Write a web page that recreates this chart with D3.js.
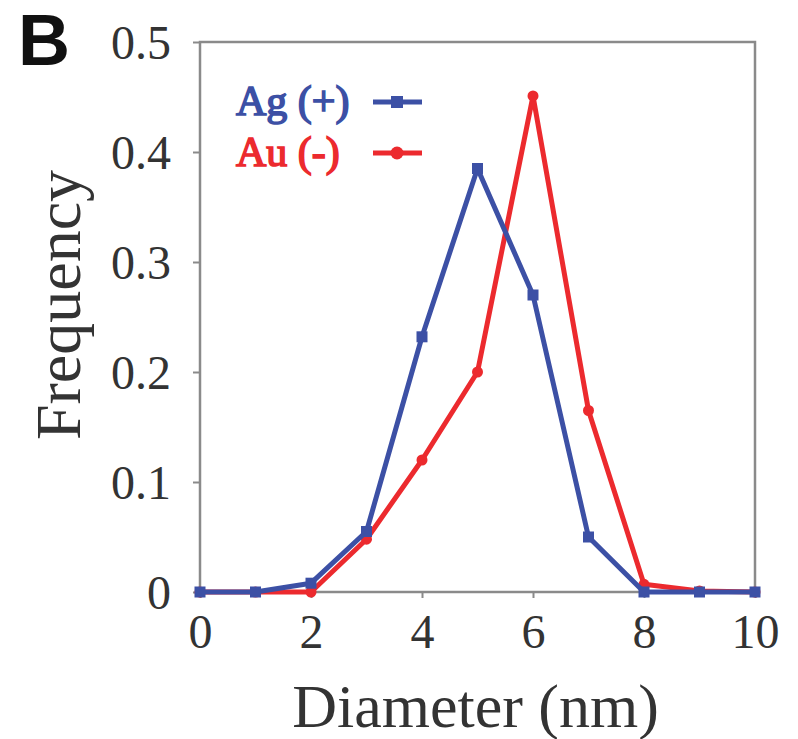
<!DOCTYPE html>
<html>
<head>
<meta charset="utf-8">
<script src="https://cdn.jsdelivr.net/npm/d3@7"></script>
<style>
  body { margin: 0; background: #fff; }
  svg { display: block; }
  .tick text { font-family: "Liberation Serif", "Times New Roman", serif; }
</style>
</head>
<body>
<svg width="798" height="739"></svg>
<script>
const diameter = [0, 1, 2, 3, 4, 5, 6, 7, 8, 9, 10];
const agValues = [0, 0, 0.008, 0.055, 0.232, 0.385, 0.27, 0.05, 0, 0, 0];
const auValues = [0, 0, 0, 0.048, 0.12, 0.2, 0.451, 0.165, 0.007, 0.001, 0];
const xTicks = [0, 2, 4, 6, 8, 10];
const yTicks = [0, 0.1, 0.2, 0.3, 0.4, 0.5];

const blue = '#3c50a5';
const red = '#ec2a2e';

const svg = d3.select('svg');
const plotLeft = 200, plotRight = 755, plotTop = 42, plotBottom = 592;

const xScale = d3.scaleLinear().domain([0, 10]).range([plotLeft, plotRight]);
const yScale = d3.scaleLinear().domain([0, 0.5]).range([plotBottom, plotTop]);

// frame
svg.append('rect')
  .attr('x', plotLeft).attr('y', plotTop)
  .attr('width', plotRight - plotLeft).attr('height', plotBottom - plotTop)
  .attr('fill', 'none').attr('stroke', '#8a8a8a').attr('stroke-width', 2.5);

const xAxis = svg.append('g')
  .attr('transform', `translate(0, ${plotBottom})`)
  .call(d3.axisBottom(xScale).tickValues(xTicks).tickSize(6).tickPadding(16).tickFormat(d3.format('d')));
xAxis.select('.domain').remove();
xAxis.selectAll('line').attr('stroke', '#8a8a8a').attr('stroke-width', 2);
xAxis.selectAll('text').attr('font-size', 48).attr('fill', '#333');

const yAxis = svg.append('g')
  .attr('transform', `translate(${plotLeft}, 0)`)
  .call(d3.axisLeft(yScale).tickValues(yTicks).tickSize(7).tickPadding(22)
    .tickFormat(d => d === 0 ? '0' : d3.format('.1f')(d)));
yAxis.select('.domain').remove();
yAxis.selectAll('line').attr('stroke', '#8a8a8a').attr('stroke-width', 2);
yAxis.selectAll('text').attr('font-size', 48).attr('fill', '#333').attr('dy', '0.35em');

// axis titles
svg.append('text')
  .attr('x', (plotLeft + plotRight) / 2 - 2)
  .attr('y', 727)
  .attr('text-anchor', 'middle')
  .attr('font-family', '"Liberation Serif", serif')
  .attr('font-size', 62)
  .attr('fill', '#333')
  .text('Diameter (nm)');

svg.append('text')
  .attr('transform', 'translate(80, 305) rotate(-90)')
  .attr('text-anchor', 'middle')
  .attr('font-family', '"Liberation Serif", serif')
  .attr('font-size', 64)
  .attr('fill', '#333')
  .text('Frequency');

// panel label
svg.append('text')
  .attr('x', 18).attr('y', 65)
  .attr('font-family', '"Liberation Sans", Arial, sans-serif')
  .attr('font-weight', 'bold')
  .attr('font-size', 72)
  .attr('fill', '#111')
  .text('B');

const line = d3.line()
  .x((d, i) => xScale(diameter[i]))
  .y(d => yScale(d));

svg.append('path')
  .datum(auValues)
  .attr('d', line)
  .attr('fill', 'none').attr('stroke', red).attr('stroke-width', 5)
  .attr('stroke-linejoin', 'round');

svg.selectAll('.au-dot')
  .data(auValues)
  .enter().append('circle')
  .attr('class', 'au-dot')
  .attr('cx', (d, i) => xScale(diameter[i]))
  .attr('cy', d => yScale(d))
  .attr('r', 5.5)
  .attr('fill', red);

svg.append('path')
  .datum(agValues)
  .attr('d', line)
  .attr('fill', 'none').attr('stroke', blue).attr('stroke-width', 5)
  .attr('stroke-linejoin', 'round');

svg.selectAll('.ag-dot')
  .data(agValues)
  .enter().append('rect')
  .attr('class', 'ag-dot')
  .attr('x', (d, i) => xScale(diameter[i]) - 5.5)
  .attr('y', d => yScale(d) - 5.5)
  .attr('width', 11).attr('height', 11)
  .attr('fill', blue);

// legend
const legend = [
  { label: 'Ag (+)', color: blue, shape: 'square', y: 102 },
  { label: 'Au (-)', color: red, shape: 'circle', y: 153 }
];

legend.forEach(l => {
  svg.append('text')
    .attr('x', 236).attr('y', l.y + 13)
    .attr('font-family', '"Liberation Serif", "Times New Roman", serif')
    .attr('font-size', 42)
    .attr('fill', l.color)
    .attr('stroke', l.color)
    .attr('stroke-width', 1.6)
    .text(l.label);
  svg.append('line')
    .attr('x1', 373).attr('x2', 422)
    .attr('y1', l.y).attr('y2', l.y)
    .attr('stroke', l.color).attr('stroke-width', 5);
  if (l.shape === 'square') {
    svg.append('rect')
      .attr('x', 391).attr('y', l.y - 6)
      .attr('width', 12).attr('height', 12)
      .attr('fill', l.color);
  } else {
    svg.append('circle')
      .attr('cx', 397).attr('cy', l.y)
      .attr('r', 6.5)
      .attr('fill', l.color);
  }
});
</script>
</body>
</html>
